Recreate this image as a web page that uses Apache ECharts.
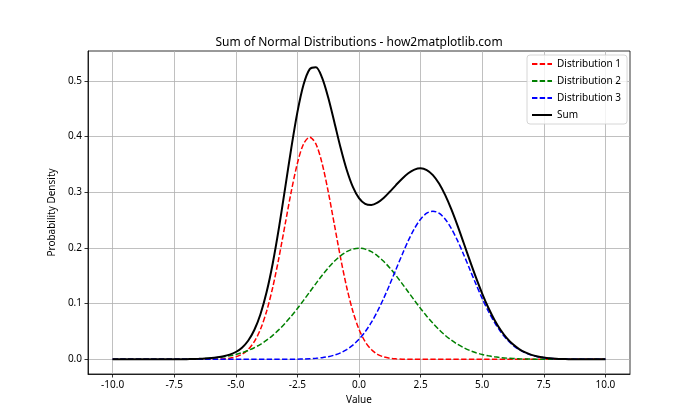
<!DOCTYPE html>
<html><head><meta charset="utf-8">
<script src="https://cdn.jsdelivr.net/npm/echarts@6/dist/echarts.min.js"></script>
<style>html,body{margin:0;padding:0;background:#fff}#c{width:700px;height:420px}</style>
</head><body><div id="c"></div>
<script>
const xValues = [-10,-9.75,-9.5,-9.25,-9,-8.75,-8.5,-8.25,-8,-7.75,-7.5,-7.25,-7,-6.75,-6.5,-6.25,-6,-5.75,-5.5,-5.25,-5,-4.75,-4.5,-4.25,-4,-3.75,-3.5,-3.25,-3,-2.75,-2.5,-2.25,-2,-1.75,-1.5,-1.25,-1,-0.75,-0.5,-0.25,0,0.25,0.5,0.75,1,1.25,1.5,1.75,2,2.25,2.5,2.75,3,3.25,3.5,3.75,4,4.25,4.5,4.75,5,5.25,5.5,5.75,6,6.25,6.5,6.75,7,7.25,7.5,7.75,8,8.25,8.5,8.75,9,9.25,9.5,9.75,10];

const dist1 = [0,0,0,0,0,0,0,0,0,0,0,0,0,0,0,0,
0.0001,0.0004,0.0009,0.0020,0.0044,0.0091,0.0175,0.0317,0.0540,0.0863,0.1295,0.1826,0.2420,0.3011,0.3521,0.3867,0.3989,0.3867,0.3521,0.3011,0.2420,0.1826,0.1295,0.0863,0.0540,0.0317,0.0175,0.0091,0.0044,0.0020,0.0009,0.0004,0.0001,
0,0,0,0,0,0,0,0,0,0,0,0,0,0,0,0,0,0,0,0,0,0,0,0,0,0,0,0,0,0,0,0];

const dist2 = [0,0,0,0,0,0,0,0,
0.0001,0.0001,0.0002,0.0003,0.0004,0.0007,0.0010,0.0015,0.0022,0.0032,0.0045,0.0064,0.0088,0.0119,0.0159,0.0209,0.0270,0.0344,0.0431,0.0533,0.0648,0.0775,0.0913,0.1059,0.1210,0.1360,0.1506,0.1641,0.1760,0.1859,0.1933,0.1979,0.1995,
0.1979,0.1933,0.1859,0.1760,0.1641,0.1506,0.1360,0.1210,0.1059,0.0913,0.0775,0.0648,0.0533,0.0431,0.0344,0.0270,0.0209,0.0159,0.0119,0.0088,0.0064,0.0045,0.0032,0.0022,0.0015,0.0010,0.0007,0.0004,0.0003,0.0002,0.0001,0.0001,
0,0,0,0,0,0,0,0];

const dist3 = [0,0,0,0,0,0,0,0,0,0,0,0,0,0,0,0,0,0,0,0,0,0,0,0,0,0,0,0,
0.0001,0.0002,0.0003,0.0006,0.0010,0.0018,0.0030,0.0048,0.0076,0.0117,0.0175,0.0254,0.0360,0.0495,0.0663,0.0863,0.1093,0.1347,0.1613,0.1879,0.2130,0.2347,0.2516,0.2623,0.2660,0.2623,0.2516,0.2347,0.2130,0.1879,0.1613,0.1347,0.1093,0.0863,0.0663,0.0495,0.0360,0.0254,0.0175,0.0117,0.0076,0.0048,0.0030,0.0018,0.0010,0.0006,0.0003,0.0002,0.0001,
0,0,0,0];

const sumValues = [0,0,0,0,0,0,0,0,
0.0001,0.0001,0.0002,0.0003,0.0004,0.0007,0.0010,0.0015,0.0023,0.0036,0.0054,0.0084,0.0132,0.0210,0.0334,0.0526,0.0810,0.1207,0.1726,0.2359,0.3069,0.3788,0.4437,0.4932,0.5209,0.5245,0.5057,0.4700,0.4256,0.3802,0.3403,0.3096,0.2895,
0.2791,0.2771,0.2813,0.2897,0.3008,0.3128,0.3243,0.3341,0.3406,0.3429,0.3398,0.3308,0.3156,0.2947,0.2691,0.2400,0.2088,0.1772,0.1466,0.1181,0.0927,0.0708,0.0527,0.0382,0.0269,0.0185,0.0124,0.0080,0.0051,0.0032,0.0019,0.0011,0.0006,0.0003,0.0002,0.0001,
0,0,0,0];

const xTicks = [-10,-7.5,-5,-2.5,0,2.5,5,7.5,10];
const yTicks = [0,0.1,0.2,0.3,0.4,0.5];
const seriesNames = ['Distribution 1','Distribution 2','Distribution 3','Sum'];

const FONT = 'Noto Sans';
const pair = ys => xValues.map((x, i) => [x, ys[i]]);
const dash = [5.4, 2.3];

const chart = echarts.init(document.getElementById('c'), null, {renderer: 'canvas'});
chart.setOption({
  animation: false,
  backgroundColor: '#fff',
  textStyle: {fontFamily: FONT},
  title: {
    text: 'Sum of Normal Distributions - how2matplotlib.com',
    left: 354, top: 32, textAlign: 'center',
    textStyle: {fontFamily: FONT, fontSize: 12, fontWeight: 'normal', color: '#000'}
  },
  grid: {left: 88, right: 70, top: 51, bottom: 46, show: true, borderColor: '#000', borderWidth: 0.8, backgroundColor: 'transparent'},
  legend: {
    orient: 'vertical', left: 527, top: 55,
    data: seriesNames,
    itemWidth: 20, itemHeight: 10, itemGap: 7,
    padding: [4, 6, 4, 4],
    backgroundColor: 'rgba(255,255,255,0.8)',
    borderColor: '#cccccc', borderWidth: 0.8, borderRadius: 3,
    itemStyle: {opacity: 0},
    textStyle: {fontFamily: FONT, fontSize: 10, color: '#000'}
  },
  xAxis: {
    type: 'value', min: -11, max: 11,
    name: 'Value', nameLocation: 'middle', nameGap: 20,
    nameTextStyle: {fontFamily: FONT, fontSize: 10, color: '#000'},
    axisLine: {show: true, onZero: false, lineStyle: {color: '#000', width: 0.8}},
    axisTick: {show: true, customValues: xTicks, length: 3.5, lineStyle: {color: '#000', width: 0.8}},
    axisLabel: {customValues: xTicks, margin: 6, fontFamily: FONT, fontSize: 10, color: '#000', formatter: v => v.toFixed(1)},
    splitLine: {show: true, lineStyle: {color: '#b0b0b0', width: 0.8}}
  },
  yAxis: {
    type: 'value', min: -0.0263, max: 0.5535,
    name: 'Probability Density', nameLocation: 'middle', nameGap: 25, nameRotate: 90,
    nameTextStyle: {fontFamily: FONT, fontSize: 10, color: '#000'},
    axisLine: {show: true, onZero: false, lineStyle: {color: '#000', width: 0.8}},
    axisTick: {show: true, customValues: yTicks, length: 3.5, lineStyle: {color: '#000', width: 0.8}},
    axisLabel: {customValues: yTicks, margin: 6, fontFamily: FONT, fontSize: 10, color: '#000', formatter: v => v.toFixed(1)},
    splitLine: {show: true, lineStyle: {color: '#b0b0b0', width: 0.8}}
  },
  series: [
    {name: seriesNames[0], type: 'line', data: pair(dist1), symbol: 'none', smooth: 0.3, lineStyle: {color: '#ff0000', width: 1.5, type: dash}, itemStyle: {color: '#ff0000'}},
    {name: seriesNames[1], type: 'line', data: pair(dist2), symbol: 'none', smooth: 0.3, lineStyle: {color: '#008000', width: 1.5, type: dash}, itemStyle: {color: '#008000'}},
    {name: seriesNames[2], type: 'line', data: pair(dist3), symbol: 'none', smooth: 0.3, lineStyle: {color: '#0000ff', width: 1.5, type: dash}, itemStyle: {color: '#0000ff'}},
    {name: seriesNames[3], type: 'line', data: pair(sumValues), symbol: 'none', smooth: 0.3, lineStyle: {color: '#000000', width: 2}, itemStyle: {color: '#000000'}}
  ]
});
</script></body></html>
